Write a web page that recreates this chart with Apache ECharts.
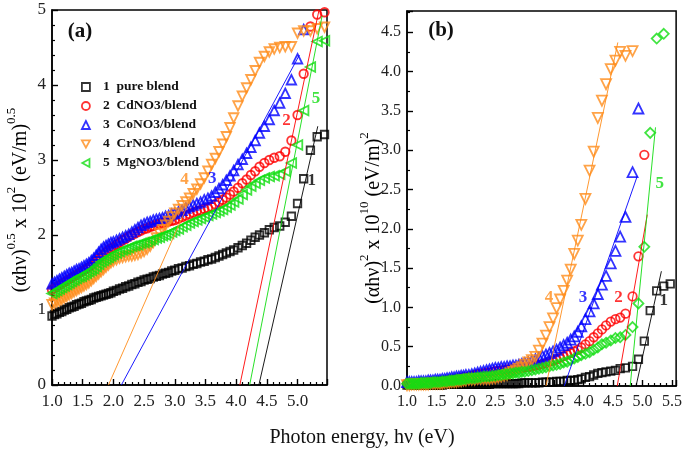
<!DOCTYPE html>
<html><head><meta charset="utf-8">
<script src="https://cdn.jsdelivr.net/npm/echarts@6/dist/echarts.min.js"></script>
<style>html,body{margin:0;padding:0;background:#fff}#c{width:685px;height:454px}</style>
</head><body><div id="c"></div>
<script>
// ---------- shared photon-energy grid (eV) ----------
const energyCommon = [
1.00,1.04,1.08,1.12,1.16,1.20,1.24,1.28,1.32,1.36,
1.40,1.44,1.48,1.52,1.56,1.60,1.64,1.68,1.72,1.76,
1.80,1.84,1.88,1.92,1.96,2.00,2.05,2.10,2.15,2.20,
2.25,2.30,2.35,2.40,2.45,2.50,2.55,2.60,2.65,2.70,
2.75,2.80,2.85,2.90,2.95,3.00,3.06,3.12,3.18,3.24,
3.30,3.36,3.42,3.48,3.54,3.60,3.66,3.72,3.78,3.84,
3.90,3.96,4.03,4.10,4.17,4.24,4.31,4.38,4.46,4.54,
4.62,4.71];
const tailA = [4.80,4.90,5.00,5.10,5.21,5.32,5.44];
const tailB = [4.83,4.93,5.03,5.13,5.24,5.36,5.47];
const energyA = energyCommon.concat(tailA);
const energyB = energyCommon.concat(tailB);

const seriesNames = ['1  pure blend','2  CdNO3/blend','3  CoNO3/blend','4  CrNO3/blend','5  MgNO3/blend'];

// ---------- panel (a): (αhν)^0.5 x 10^2 ----------
const aPure = [
.92,.94,.95,.97,.98,1.00,1.01,1.03,1.04,1.05,
1.07,1.08,1.09,1.11,1.12,1.13,1.14,1.16,1.17,1.18,
1.19,1.20,1.21,1.22,1.23,1.25,1.26,1.28,1.29,1.31,
1.32,1.34,1.35,1.37,1.38,1.40,1.41,1.42,1.44,1.45,
1.46,1.48,1.49,1.50,1.52,1.53,1.55,1.56,1.58,1.59,
1.61,1.62,1.64,1.65,1.67,1.68,1.70,1.72,1.74,1.76,
1.78,1.80,1.83,1.86,1.89,1.93,1.97,2.00,2.03,2.07,
2.10,2.12, 2.17,2.25,2.42,2.75,3.13,3.31,3.34];
const aCd = [
1.27,1.29,1.31,1.33,1.35,1.37,1.39,1.41,1.43,1.45,
1.47,1.49,1.51,1.53,1.55,1.57,1.59,1.62,1.65,1.68,
1.71,1.74,1.77,1.80,1.82,1.84,1.87,1.90,1.93,1.95,
1.98,2.00,2.02,2.04,2.06,2.08,2.09,2.11,2.12,2.14,
2.15,2.16,2.17,2.18,2.19,2.20,2.22,2.24,2.26,2.28,
2.30,2.32,2.33,2.35,2.36,2.38,2.41,2.44,2.47,2.50,
2.54,2.58,2.63,2.69,2.74,2.80,2.85,2.91,2.96,3.00,
3.03,3.05, 3.11,3.26,3.60,4.15,4.78,4.94,4.97];
const aCo = [
1.35,1.37,1.39,1.41,1.43,1.45,1.47,1.49,1.50,1.52,
1.54,1.55,1.57,1.59,1.61,1.63,1.66,1.69,1.73,1.77,
1.81,1.84,1.86,1.88,1.90,1.91,1.93,1.95,1.97,1.99,
2.01,2.04,2.07,2.10,2.13,2.15,2.17,2.18,2.20,2.21,
2.22,2.23,2.25,2.26,2.28,2.29,2.31,2.33,2.36,2.38,
2.40,2.42,2.44,2.47,2.49,2.52,2.57,2.62,2.67,2.73,
2.79,2.86,2.94,3.01,3.09,3.17,3.26,3.36,3.45,3.54,
3.66,3.76, 3.89,4.07,4.35,4.74,null,null,null];
const aCr = [
1.07,1.09,1.11,1.12,1.14,1.16,1.18,1.20,1.22,1.24,
1.26,1.28,1.30,1.32,1.34,1.36,1.39,1.42,1.45,1.48,
1.51,1.54,1.57,1.60,1.63,1.65,1.67,1.69,1.70,1.71,
1.72,1.72,1.73,1.74,1.76,1.78,1.81,1.85,1.90,1.96,
2.02,2.07,2.13,2.18,2.24,2.29,2.34,2.39,2.44,2.49,
2.55,2.61,2.68,2.76,2.85,2.94,3.02,3.11,3.21,3.31,
3.43,3.56,3.72,3.85,3.96,4.07,4.19,4.30,4.38,4.44,
4.48,4.50, 4.51,4.51,4.69,4.72,4.72,4.75,4.77];
const aMg = [
1.22,1.24,1.26,1.28,1.30,1.32,1.34,1.36,1.38,1.40,
1.42,1.44,1.45,1.47,1.49,1.51,1.53,1.55,1.58,1.61,
1.64,1.66,1.68,1.70,1.72,1.74,1.76,1.78,1.80,1.81,
1.83,1.85,1.86,1.87,1.89,1.90,1.91,1.93,1.94,1.96,
1.97,1.99,2.00,2.02,2.04,2.06,2.08,2.11,2.13,2.16,
2.18,2.20,2.22,2.24,2.26,2.28,2.30,2.32,2.34,2.37,
2.40,2.44,2.48,2.54,2.60,2.65,2.69,2.73,2.76,2.78,
2.79,2.81, 2.85,2.96,3.20,3.66,4.24,4.58,4.59];

// ---------- panel (b): (αhν)^2 x 10^10 ----------
const bPure = [
.01,.01,.01,.01,.01,.01,.01,.01,.01,.01,
.01,.01,.01,.01,.01,.01,.02,.02,.02,.02,
.02,.02,.02,.02,.02,.02,.02,.02,.02,.02,
.02,.02,.02,.02,.03,.03,.03,.03,.03,.03,
.03,.03,.03,.03,.04,.04,.04,.04,.04,.04,
.05,.05,.05,.05,.06,.06,.06,.07,.07,.07,
.08,.09,.11,.12,.14,.16,.17,.18,.19,.20,
.22,.23, .25,.34,.57,.96,1.21,1.27,1.30];
const bCd = [
.03,.03,.03,.03,.03,.03,.04,.04,.04,.04,
.05,.05,.05,.05,.06,.06,.06,.07,.07,.08,
.08,.09,.09,.10,.11,.11,.12,.13,.14,.15,
.15,.16,.17,.17,.18,.19,.19,.20,.20,.21,
.21,.22,.22,.23,.23,.24,.24,.25,.26,.27,
.28,.29,.31,.32,.34,.36,.38,.40,.42,.44,
.46,.49,.53,.57,.62,.67,.72,.77,.82,.85,
.87,.92, 1.14,1.65,2.94,null,null,null,null];
const bCo = [
.05,.05,.05,.05,.05,.06,.06,.06,.06,.07,
.07,.07,.08,.08,.08,.09,.09,.10,.10,.11,
.11,.12,.12,.13,.13,.14,.14,.15,.16,.17,
.18,.19,.20,.21,.22,.23,.23,.24,.24,.25,
.25,.26,.26,.27,.28,.29,.30,.32,.34,.36,
.38,.40,.42,.44,.46,.49,.52,.55,.59,.63,
.69,.76,.85,.95,1.05,1.17,1.29,1.40,1.56,1.72,
1.90,2.15, 2.72,3.53,null,null,null,null,null];
const bCr = [
.01,.01,.02,.02,.02,.02,.02,.02,.02,.02,
.03,.03,.03,.03,.03,.03,.04,.04,.04,.05,
.05,.05,.06,.06,.07,.07,.08,.08,.08,.09,
.09,.09,.09,.09,.10,.10,.11,.12,.13,.14,
.16,.18,.20,.22,.24,.27,.30,.33,.37,.45,
.54,.64,.75,.86,.99,1.10,1.21,1.34,1.48,1.68,
1.85,2.05,2.38,2.74,2.98,3.41,3.63,3.84,4.03,4.14,
4.25,4.20, 4.26,null,null,null,null,null,null];
const bMg = [
.03,.03,.03,.03,.03,.03,.04,.04,.04,.04,
.04,.05,.05,.05,.05,.06,.06,.06,.07,.07,
.07,.08,.08,.08,.09,.09,.10,.10,.10,.11,
.11,.12,.12,.12,.13,.13,.14,.14,.15,.15,
.16,.16,.17,.17,.18,.18,.19,.20,.21,.22,
.23,.24,.25,.26,.27,.28,.30,.31,.33,.35,
.37,.39,.41,.43,.46,.49,.53,.55,.58,.61,
.62,.65, .75,1.05,1.77,3.22,4.42,4.48,null];

// ---------- linear fits (endpoints, eV / axis units) ----------
const fitAPure = [[4.37,0],[5.33,3.45]];
const fitACd   = [[4.06,0],[5.35,5.00]];
const fitACo   = [[2.13,0],[5.03,4.40]];
const fitACr   = [[1.92,0],[3.36,2.68]];
const fitAMg   = [[4.22,0],[5.40,4.92]];
const fitBPure = [[4.89,0],[5.32,1.46]];
const fitBCd   = [[4.57,0],[5.08,2.18]];
const fitBCo   = [[3.67,0],[4.91,2.67]];
const fitBCr   = [[3.36,0],[4.58,4.37]];
const fitBMg   = [[4.79,0],[5.22,3.29]];

// ---------- curve numbers (label, x, y) ----------
const numbersA = [['1',5.23,2.73],['2',4.82,3.52],['3',3.61,2.75],['4',3.16,2.74],['5',5.30,3.82]];
const numbersB = [['1',5.36,1.09],['2',4.59,1.12],['3',3.99,1.12],['4',3.41,1.12],['5',5.29,2.58]];

const colors = ['#000000','#ff0000','#0000ff','#ff8c1a','#11dd11'];
const SERIF = '"Liberation Serif","Times New Roman",serif';

function pairs(xs, ys){ const out=[]; for(let i=0;i<xs.length;i++){ if(ys[i]!=null) out.push([xs[i],ys[i]]);} return out; }

const TRI_DOWN = 'path://M0,0L10,0L5,9Z';
const TRI_LEFT = 'path://M9,0L9,10L0,5Z';
const symbolsA = [['rect',7.5],['circle',8.5],['triangle',9.5],[TRI_DOWN,9.5],[TRI_LEFT,9.5]];
const symbolsB = [['rect',7.5],['circle',8.5],['triangle',10],[TRI_DOWN,10],['diamond',10]];
const dataA = [aPure,aCd,aCo,aCr,aMg];
const dataB = [bPure,bCd,bCo,bCr,bMg];
const fitsA = [fitAPure,fitACd,fitACo,fitACr,fitAMg];
const fitsB = [fitBPure,fitBCd,fitBCo,fitBCr,fitBMg];

const series = [];
for (let i=0;i<5;i++){
  series.push({name: seriesNames[i], type:'scatter', xAxisIndex:0, yAxisIndex:0,
    data: pairs(energyA, dataA[i]), symbol: symbolsA[i][0], symbolSize: symbolsA[i][1],
    itemStyle:{color:'rgba(255,255,255,0)', borderColor: colors[i], borderWidth: 1.8}, z: 3+i, animation:false});
}
for (let i=0;i<5;i++){
  series.push({name: 'b'+seriesNames[i], type:'scatter', xAxisIndex:1, yAxisIndex:1,
    data: pairs(energyB, dataB[i]), symbol: symbolsB[i][0], symbolSize: symbolsB[i][1],
    itemStyle:{color:'rgba(255,255,255,0)', borderColor: colors[i], borderWidth: 1.8}, z: 3+i, animation:false});
}
for (let i=0;i<5;i++){
  series.push({type:'line', xAxisIndex:0, yAxisIndex:0, data: fitsA[i], symbol:'none', z:10,
    lineStyle:{color: colors[i], width: 0.9}, animation:false, silent:true});
  series.push({type:'line', xAxisIndex:1, yAxisIndex:1, data: fitsB[i], symbol:'none', z:10,
    lineStyle:{color: colors[i], width: 0.9}, animation:false, silent:true});
}
function numSeries(list, xi){
  return {type:'scatter', xAxisIndex:xi, yAxisIndex:xi, symbolSize:0, z:20, silent:true, animation:false,
    data: list.map(d => ({value:[d[1],d[2]], label:{show:true, formatter:d[0], position:'inside',
      color: colors[parseInt(d[0])-1], fontFamily: SERIF, fontWeight:'bold', fontSize:17}}))};
}
series.push(numSeries(numbersA,0));
series.push(numSeries(numbersB,1));

function halfLabel(v){ return Math.abs(v*2-Math.round(v*2))<1e-6 ? v.toFixed(1) : ''; }
function xAxisCfg(gi, max, fs){
  return {type:'value', gridIndex:gi, min:1, max:max, interval:0.5,
    axisLine:{show:true, onZero:false, lineStyle:{color:'#000', width:1.5}},
    axisTick:{show:true, inside:true, length:6, lineStyle:{color:'#000', width:1.4}},
    minorTick:{show:true, splitNumber:5, length:3, lineStyle:{color:'#000', width:1.2}},
    splitLine:{show:false},
    axisLabel:{showMaxLabel:false, margin:8, formatter: halfLabel, color:'#222', fontFamily:SERIF, fontSize:fs}};
}
function yAxisCfg(gi, max, interval, minorSplit, fmt, fs){
  return {type:'value', gridIndex:gi, min:0, max:max, interval:interval,
    axisLine:{show:true, lineStyle:{color:'#000', width:1.5}},
    axisTick:{show:true, inside:true, length:6, lineStyle:{color:'#000', width:1.4}},
    minorTick:{show:true, splitNumber:minorSplit, length:3, lineStyle:{color:'#000', width:1.2}},
    splitLine:{show:false},
    axisLabel:{margin:6, formatter: fmt, color:'#222', fontFamily:SERIF, fontSize:fs}};
}

const richY = {
  t:{fontFamily:SERIF, fontSize:20, color:'#111', lineHeight:26, verticalAlign:'bottom'},
  s:{fontFamily:SERIF, fontSize:13, color:'#111', lineHeight:26, verticalAlign:'top'}
};

const option = {
  backgroundColor:'#fff',
  animation:false,
  grid:[
    {left:52, top:10, right:358, bottom:69, show:true, borderColor:'#000', borderWidth:1.5, backgroundColor:'rgba(0,0,0,0)'},
    {left:407, top:11, right:3, bottom:68, show:true, borderColor:'#000', borderWidth:1.5, backgroundColor:'rgba(0,0,0,0)'}
  ],
  xAxis:[ xAxisCfg(0, 5.48, 17), xAxisCfg(1, 5.57, 16) ],
  yAxis:[
    yAxisCfg(0, 5, 1, 5, v => (Math.abs(v-Math.round(v))<1e-6 ? String(Math.round(v)) : ''), 17),
    yAxisCfg(1, 4.77, 0.5, 2, halfLabel, 16)
  ],
  legend:{data: seriesNames, orient:'vertical', left:76, top:75, itemWidth:8, itemHeight:8, itemGap:5,
    selectedMode:false,
    itemStyle:{borderWidth:1.8},
    textStyle:{fontFamily:SERIF, fontWeight:'bold', fontSize:13.5, lineHeight:14, color:'#111', padding:[0,0,0,8]}},
  graphic:[
    {type:'text', x:80, y:32, style:{text:'(a)', font:'bold 21px '+SERIF, fill:'#111', align:'center', verticalAlign:'middle'}},
    {type:'text', x:441, y:31, style:{text:'(b)', font:'bold 21px '+SERIF, fill:'#111', align:'center', verticalAlign:'middle'}},
    {type:'text', x:362, y:438, style:{text:'Photon energy, h\u03bd (eV)', font:'20px '+SERIF, fill:'#111', align:'center', verticalAlign:'middle'}},
    {type:'text', x:18, y:200, rotation:Math.PI/2, style:{text:'{t|(\u03b1h\u03bd)}{s|0.5}{t| x 10}{s|2}{t| (eV/m)}{s|0.5}', rich:richY, align:'center', verticalAlign:'middle'}},
    {type:'text', x:371, y:218, rotation:Math.PI/2, style:{text:'{t|(\u03b1h\u03bd)}{s|2}{t| x 10}{s|10}{t| (eV/m)}{s|2}', rich:richY, align:'center', verticalAlign:'middle'}}
  ],
  series: series
};
const chart = echarts.init(document.getElementById('c'), null, {renderer:'canvas'});
chart.setOption(option);
</script>
</body></html>
